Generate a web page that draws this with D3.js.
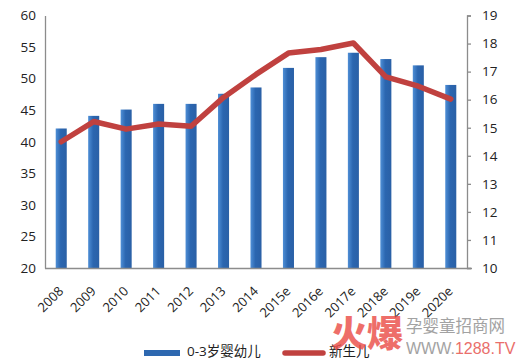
<!DOCTYPE html>
<html><head><meta charset="utf-8">
<script src="https://cdn.jsdelivr.net/npm/d3@7/dist/d3.min.js"></script>
<style>body{margin:0;background:#fff}svg{display:block}</style>
</head><body><svg id="c" width="520" height="359"></svg>
<script>
const categories = ["2008","2009","2010","2011","2012","2013","2014","2015e","2016e","2017e","2018e","2019e","2020e"];
const infants = [42.1,44.1,45.1,46,46,47.6,48.6,51.7,53.4,54.1,53.1,52.1,49.0];
const newborns = [14.5,15.22,14.95,15.13,15.05,16.08,16.9,17.66,17.79,18.02,16.81,16.48,16.02];
const leftTicks = [20,25,30,35,40,45,50,55,60];
const rightTicks = [10,11,12,13,14,15,16,17,18,19];
const seriesNames = ["0-3岁婴幼儿","新生儿"];

const svg = d3.select("#c");
const font = "'Open Sans','Noto Sans CJK SC',sans-serif";
const L = 45, R = 467, T = 15.5, B = 268;
const x = d3.scaleBand().domain(categories).range([L, R]).paddingInner(0.66).paddingOuter(0.33);
const yL = d3.scaleLinear().domain([20, 60]).range([B, T]);
const yR = d3.scaleLinear().domain([10, 19]).range([B, T]);

const defs = svg.append("defs");
const g = defs.append("linearGradient").attr("id","bg").attr("x1","0").attr("x2","1").attr("y1","0").attr("y2","0");
g.append("stop").attr("offset","0%").attr("stop-color","#4f8fd6");
g.append("stop").attr("offset","45%").attr("stop-color","#2b66b0");
g.append("stop").attr("offset","100%").attr("stop-color","#2a60a6");

svg.append("g").selectAll("rect").data(infants).join("rect")
  .attr("x",(d,i)=>x(categories[i])).attr("width",x.bandwidth())
  .attr("y",d=>yL(d)).attr("height",d=>B-yL(d)).attr("fill","url(#bg)");

// left axis
const la = svg.append("g").attr("transform",`translate(${L},0)`)
  .call(d3.axisLeft(yL).tickValues(leftTicks).tickSize(0).tickPadding(9));
la.select(".domain").attr("stroke","#8c8c8c").attr("stroke-width",1.3);
la.selectAll("text").attr("font-family",font).attr("font-size",13.5).attr("fill","#222");

// right axis
const ra = svg.append("g").attr("transform",`translate(${R},0)`)
  .call(d3.axisRight(yR).tickValues(rightTicks).tickSize(4).tickPadding(11));
ra.select(".domain").attr("stroke","#8c8c8c").attr("stroke-width",1.3);
ra.selectAll("line").attr("stroke","#8c8c8c").attr("stroke-width",1.3);
ra.selectAll("text").attr("font-family",font).attr("font-size",13.5).attr("fill","#222");

// bottom axis
const ba = svg.append("g").attr("transform",`translate(0,${B})`)
  .call(d3.axisBottom(x).tickSize(0).tickSizeOuter(0).tickPadding(0));
ba.select(".domain").attr("stroke","#8c8c8c").attr("stroke-width",1.3).attr("d",`M${L},0.5H${R+5}`);
ba.selectAll("text").attr("font-family",font).attr("font-size",13).attr("fill","#222")
  .attr("text-anchor","end").attr("dy",0)
  .attr("transform","translate(3,24) rotate(-45)");

// line
const line = d3.line().x((d,i)=>x(categories[i])+x.bandwidth()/2).y(d=>yR(d));
svg.append("path").datum(newborns).attr("d",line).attr("fill","none")
  .attr("stroke","#c0413f").attr("stroke-width",5.5).attr("stroke-linejoin","round").attr("stroke-linecap","round");

// legend
const lg = svg.append("g");
lg.append("rect").attr("x",144).attr("y",350).attr("width",36).attr("height",6).attr("fill","#2e68b0");
lg.append("text").attr("x",187).attr("y",356).text(seriesNames[0]).attr("font-family",font).attr("font-size",13.5).attr("fill","#222");
lg.append("line").attr("x1",285).attr("x2",323).attr("y1",353).attr("y2",353).attr("stroke","#c0413f").attr("stroke-width",5.5).attr("stroke-linecap","round");
lg.append("text").attr("x",329).attr("y",356).text(seriesNames[1]).attr("font-family",font).attr("font-size",13.5).attr("fill","#222");

// watermark
const wm = svg.append("g");
wm.append("text").attr("x",331).attr("y",347).text("火爆").attr("font-family","'Noto Sans CJK SC'").attr("font-weight","900").attr("font-size",36).attr("fill","#ea4a44").attr("opacity",0.8);
wm.append("text").attr("x",406).attr("y",332).text("孕婴童招商网").attr("font-family","'Noto Sans CJK SC'").attr("font-size",16.5).attr("fill","#999").attr("opacity",0.9);
const w2 = wm.append("text").attr("x",406).attr("y",354).attr("font-family","'Liberation Sans',sans-serif").attr("font-size",16).attr("opacity",0.9);
w2.append("tspan").text("WWW.").attr("fill","#999");
w2.append("tspan").text("1288.TV").attr("fill","#e8605a");
</script></body></html>
